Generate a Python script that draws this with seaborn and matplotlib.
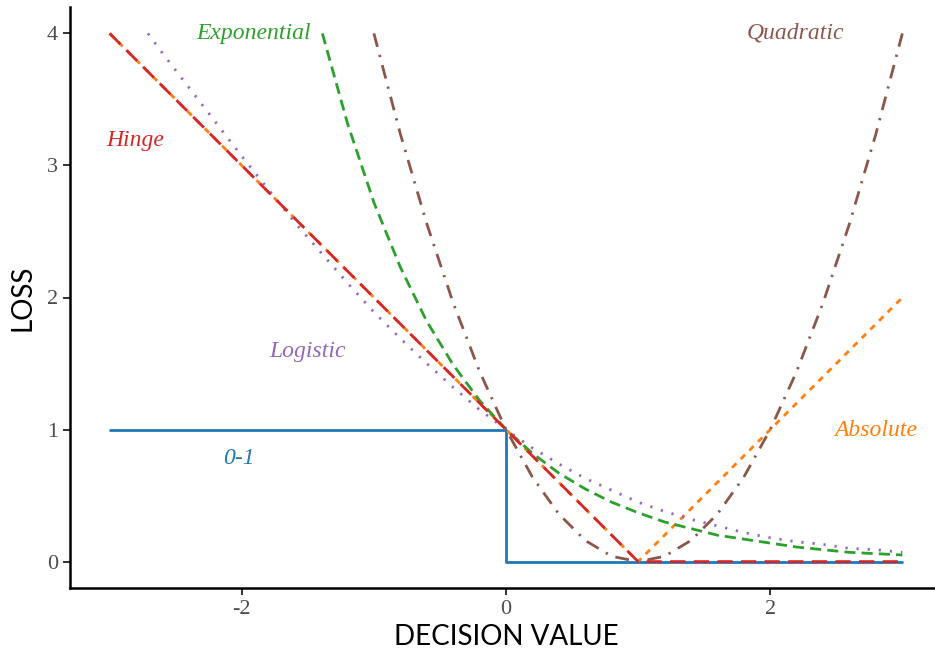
import matplotlib
matplotlib.use('Agg')
import matplotlib.pyplot as plt
import pandas as pd
import seaborn as sns

# values
zero_one_x = [-3.0, 0.0, 0.0, 3.0]
zero_one_y = [1.0, 1.0, 0.0, 0.0]

hinge_x = [-3.0, 1.0, 3.0]
hinge_y = [4.0, 0.0, 0.0]

absolute_x = [-3.0, 1.0, 3.0]
absolute_y = [4.0, 0.0, 2.0]

exp_x = [-1.39, -1.2, -1.0, -0.8, -0.6, -0.4, -0.2, 0.0, 0.2, 0.4, 0.6, 0.8,
         1.0, 1.2, 1.4, 1.6, 1.8, 2.0, 2.2, 2.4, 2.6, 2.8, 3.0]
exp_y = [4.0, 3.32, 2.72, 2.23, 1.82, 1.49, 1.22, 1.0, 0.82, 0.67, 0.55, 0.45,
         0.37, 0.30, 0.25, 0.20, 0.17, 0.14, 0.11, 0.09, 0.07, 0.06, 0.05]

logistic_x = [-2.71, -2.6, -2.4, -2.2, -2.0, -1.8, -1.6, -1.4, -1.2, -1.0, -0.8,
              -0.6, -0.4, -0.2, 0.0, 0.2, 0.4, 0.6, 0.8, 1.0, 1.2, 1.4, 1.6,
              1.8, 2.0, 2.2, 2.4, 2.6, 2.8, 3.0]
logistic_y = [4.0, 3.85, 3.59, 3.33, 3.07, 2.82, 2.57, 2.34, 2.11, 1.89, 1.69,
              1.50, 1.32, 1.15, 1.0, 0.86, 0.74, 0.63, 0.54, 0.45, 0.38, 0.32,
              0.27, 0.22, 0.18, 0.15, 0.13, 0.10, 0.09, 0.07]

quad_x = [-1.0, -0.8, -0.6, -0.4, -0.2, 0.0, 0.2, 0.4, 0.6, 0.8, 1.0,
          1.2, 1.4, 1.6, 1.8, 2.0, 2.2, 2.4, 2.6, 2.8, 3.0]
quad_y = [4.0, 3.24, 2.56, 1.96, 1.44, 1.0, 0.64, 0.36, 0.16, 0.04, 0.0,
          0.04, 0.16, 0.36, 0.64, 1.0, 1.44, 1.96, 2.56, 3.24, 4.0]

# (name, x, y, colour, dash pattern)
curves = [
    ('0-1', zero_one_x, zero_one_y, '#1f77b4', '-'),
    ('Absolute', absolute_x, absolute_y, '#ff7f0e', (0, (2.2, 2.2))),
    ('Exponential', exp_x, exp_y, '#2ca02c', (0, (4, 2.2))),
    ('Logistic', logistic_x, logistic_y, '#9467bd', (0, (0.8, 3.2))),
    ('Quadratic', quad_x, quad_y, '#8c564b', (0, (5, 3, 0.8, 3))),
    ('Hinge', hinge_x, hinge_y, '#d62728', (0, (5.5, 3))),
]

# label positions (data coords)
labels = {
    'Exponential': (-1.91, 4.0),
    'Quadratic': (2.19, 4.0),
    'Hinge': (-2.81, 3.19),
    'Logistic': (-1.50, 1.59),
    '0-1': (-2.02, 0.78),
    'Absolute': (2.80, 0.99),
}

sns.set_theme(style='ticks')
plt.rcParams['axes.unicode_minus'] = False
serif = ['Liberation Serif', 'DejaVu Serif']

fig = plt.figure(figsize=(9.35, 6.56), dpi=100)
ax = fig.add_axes([70 / 935, 68 / 656, 872 / 935, 581 / 656])

for name, xs, ys, col, ls in curves:
    df = pd.DataFrame({'x': xs, 'y': ys})
    sns.lineplot(data=df, x='x', y='y', ax=ax, color=col, linestyle=ls,
                 linewidth=2.0, sort=False, estimator=None)
    lx, ly = labels[name]
    ax.text(lx, ly, name, color=col, fontsize=17, style='italic',
            family=serif, ha='center', va='center')

ax.set_xlim(-3.3, 3.3)
ax.set_ylim(-0.2, 4.2)
ax.set_xticks([-2, 0, 2])
ax.set_yticks([0, 1, 2, 3, 4])
for lab in ax.get_xticklabels() + ax.get_yticklabels():
    lab.set_family(serif)
ax.tick_params(labelsize=16, labelcolor='#4d4d4d', color='#333333',
               length=5, width=1.4)
sns.despine(ax=ax)
for sp in ['left', 'bottom']:
    ax.spines[sp].set_linewidth(1.8)
    ax.spines[sp].set_color('black')

ax.set_xlabel('DECISION VALUE', fontsize=20, family=['Lato', 'DejaVu Sans'],
              color='black', labelpad=4)
ax.set_ylabel('LOSS', fontsize=20, family=['Lato', 'DejaVu Sans'],
              color='black', labelpad=8)

fig.savefig('out.png', dpi=100)
